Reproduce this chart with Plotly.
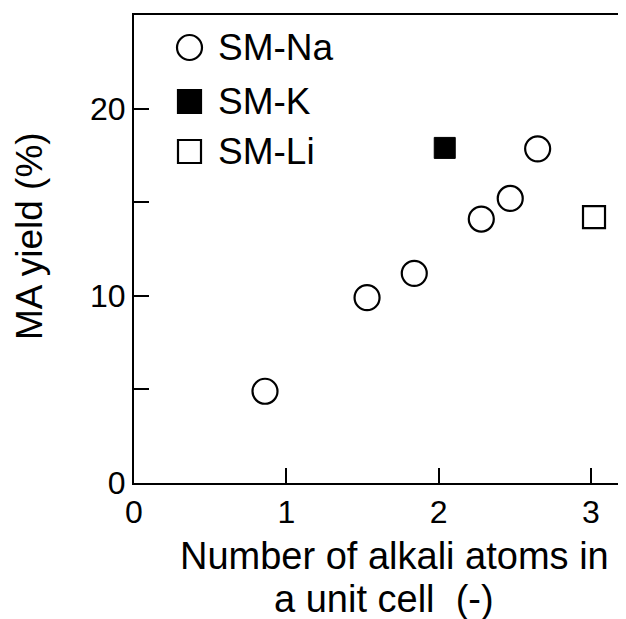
import plotly.graph_objects as go

# data
na_x = [0.86, 1.53, 1.84, 2.28, 2.47, 2.65]
na_y = [4.9, 9.9, 11.2, 14.1, 15.2, 17.85]
k_x = [2.04]
k_y = [17.9]
li_x = [3.02]
li_y = [14.2]

series_names = ["SM-Na", "SM-K", "SM-Li"]
x_ticks = [0, 1, 2, 3]
y_ticks = [0, 5, 10, 15, 20]
y_tick_text = ["0", "", "10", "", "20"]

FONT = "Liberation Sans, Arial, sans-serif"

# page offset (body margin) compensation: figure drawn at (8,8)
W, H = 618, 611
L, T, B, R = 126, 7, 136, 0
PW, PH = W - L - R, H - T - B


def px(x_page):
    return (x_page - 8 - L) / PW


def py(y_page):
    return (H - B - (y_page - 8)) / PH


fig = go.Figure()
fig.add_trace(go.Scatter(x=na_x, y=na_y, mode="markers", name=series_names[0],
                         marker=dict(symbol="circle-open", size=25, color="black",
                                     line=dict(width=2.2, color="black"))))
fig.add_trace(go.Scatter(x=k_x, y=k_y, mode="markers", name=series_names[1],
                         marker=dict(symbol="square", size=21, color="black",
                                     line=dict(width=1, color="black"))))
fig.add_trace(go.Scatter(x=li_x, y=li_y, mode="markers", name=series_names[2],
                         marker=dict(symbol="square-open", size=22, color="black",
                                     line=dict(width=2.2, color="black"))))

# legend drawn as layout shapes + text (keys at the same size as the markers)
leg_x = 189.5
leg_rows = [47.5, 101.5, 151.5]
shapes = []
annotations = []
half = [12.5, 11.5, 11.5]
kinds = ["circle", "rect", "rect"]
fills = ["rgba(0,0,0,0)", "black", "rgba(0,0,0,0)"]
for i, name in enumerate(series_names):
    shapes.append(dict(type=kinds[i], xref="paper", yref="paper", xsizemode="pixel", ysizemode="pixel",
                       xanchor=px(leg_x), yanchor=py(leg_rows[i]),
                       x0=-half[i], x1=half[i], y0=-half[i], y1=half[i],
                       line=dict(color="black", width=2.2), fillcolor=fills[i]))
    annotations.append(dict(text=name, xref="paper", yref="paper", x=px(216), y=py(leg_rows[i]),
                            xanchor="left", yanchor="middle", showarrow=False,
                            font=dict(size=37, family=FONT, color="black")))

annotations.append(dict(text="Number of alkali atoms in", xref="paper", yref="paper",
                        x=px(394), y=py(556), xanchor="center", yanchor="middle", showarrow=False,
                        font=dict(size=38, family=FONT, color="black")))
annotations.append(dict(text="a unit cell  (-)", xref="paper", yref="paper",
                        x=px(384), y=py(599), xanchor="center", yanchor="middle", showarrow=False,
                        font=dict(size=38, family=FONT, color="black")))
annotations.append(dict(text="MA yield (%)", xref="paper", yref="paper", textangle=-90,
                        x=px(29), y=py(236), xanchor="center", yanchor="middle", showarrow=False,
                        font=dict(size=37, family=FONT, color="black")))

fig.update_layout(
    width=W, height=H,
    margin=dict(l=L, r=R, t=T, b=B, pad=0),
    paper_bgcolor="white", plot_bgcolor="white",
    font=dict(family=FONT, color="black", size=32),
    showlegend=False,
    shapes=shapes,
    annotations=annotations,
    xaxis=dict(range=[0, 3.23], tickvals=x_ticks, ticks="inside", ticklen=15, tickwidth=2,
               tickcolor="black", showline=True, linewidth=2, linecolor="black", mirror=True,
               showgrid=False, zeroline=False, tickfont=dict(size=32)),
    yaxis=dict(range=[0, 25], tickvals=y_ticks, ticktext=y_tick_text, ticks="inside", ticklen=15,
               tickwidth=2, tickcolor="black", showline=True, linewidth=2, linecolor="black",
               showgrid=False, zeroline=False, tickfont=dict(size=32)),
)

fig.write_html("out.html")
